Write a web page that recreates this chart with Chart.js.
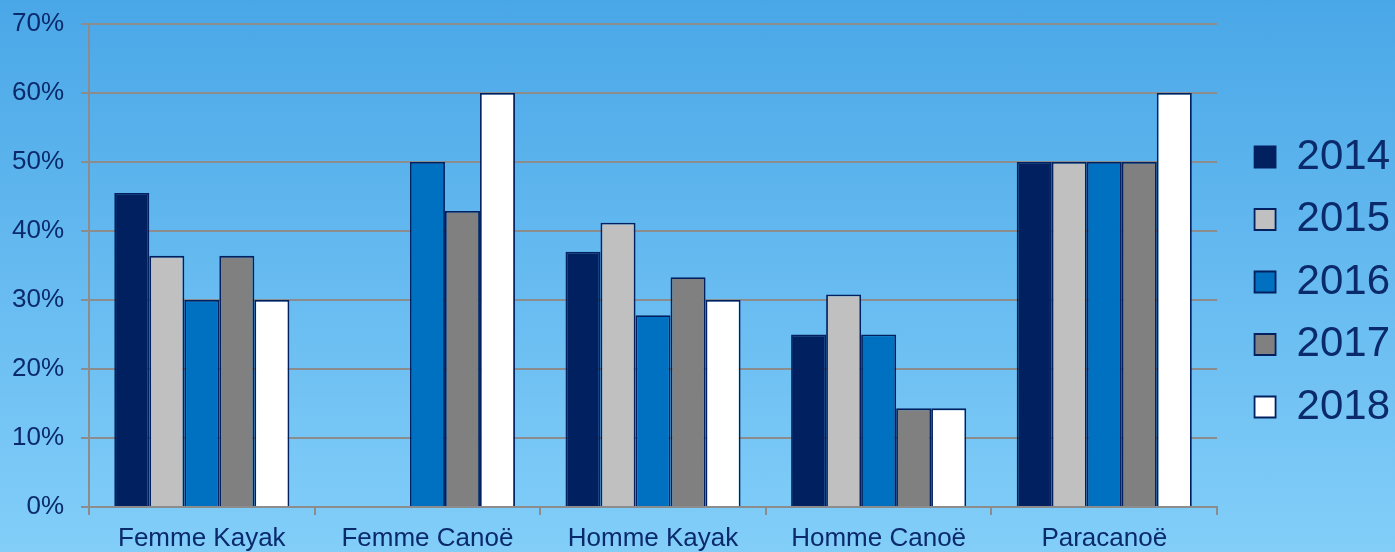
<!DOCTYPE html>
<html>
<head>
<meta charset="utf-8">
<script src="https://cdn.jsdelivr.net/npm/chart.js@4"></script>
<style>
  html, body { margin: 0; padding: 0; }
  body { width: 1395px; height: 552px; background: linear-gradient(#4aa7e7, #82cef9); }
  #wrap { width: 1395px; height: 552px; position: relative; }
</style>
</head>
<body>
<div id="wrap"><canvas id="chart"></canvas></div>
<script>
// values, in percent
const categories = ['Femme Kayak', 'Femme Canoë', 'Homme Kayak', 'Homme Canoë', 'Paracanoë'];
const years = ['2014', '2015', '2016', '2017', '2018'];
const values2014 = [45.5, 0, 37.0, 25.0, 50];
const values2015 = [36.4, 0, 41.2, 30.8, 50];
const values2016 = [30.0, 50, 27.8, 25.0, 50];
const values2017 = [36.4, 42.9, 33.3, 14.3, 50];
const values2018 = [30.0, 60, 30.0, 14.3, 60];
const yTicks = [0, 10, 20, 30, 40, 50, 60, 70];

const colors = ['#002060', '#c0c0c0', '#0070c0', '#808080', '#ffffff'];
const seriesValues = [values2014, values2015, values2016, values2017, values2018];
const textColor = '#0b2a6b';
const gridColor = '#8c8c8c';
const font = 'Liberation Sans, Arial, sans-serif';

const datasets = years.map((y, i) => ({
    label: y,
    data: seriesValues[i],
    backgroundColor: colors[i],
    borderColor: '#002060',
    borderWidth: ctx => (ctx.raw === 0 ? 0 : 1.8),
    borderSkipped: 'start'
}));

new Chart(document.getElementById('chart'), {
    type: 'bar',
    data: { labels: categories, datasets: datasets },
    options: {
        responsive: true,
        maintainAspectRatio: false,
        animation: false,
        layout: { padding: { left: 12, right: -5, top: 12, bottom: 0 } },
        datasets: { bar: { barPercentage: 1, categoryPercentage: 0.776 } },
        plugins: {
            tooltip: { enabled: false },
            legend: {
                position: 'right',
                align: 'center',
                labels: {
                    boxWidth: 21,
                    boxHeight: 21,
                    padding: 20.5,
                    color: textColor,
                    font: { family: font, size: 42 }
                }
            }
        },
        scales: {
            x: {
                grid: { display: true, drawOnChartArea: false, drawTicks: true, tickLength: 8, color: gridColor, lineWidth: 2, offset: true },
                border: { display: true, color: gridColor, width: 2 },
                ticks: { color: textColor, padding: 8, font: { family: font, size: 26 } },
                afterFit: s => { s.height = 45; }
            },
            y: {
                min: 0,
                max: 70,
                afterBuildTicks: s => { s.ticks = yTicks.map(v => ({ value: v })); },
                grid: { color: gridColor, lineWidth: 2, tickLength: 8 },
                border: { display: true, color: gridColor, width: 2 },
                ticks: {
                    color: textColor,
                    padding: 17,
                    callback: v => v + '%',
                    font: { family: font, size: 26 }
                },
                afterFit: s => { s.width = 77; s.paddingTop = 0; s.paddingBottom = 0; }
            },
            // spacers so the plot area and legend sit where they do in the picture
            xTop: {
                type: 'category',
                position: 'top',
                grid: { display: false },
                border: { display: false },
                ticks: { display: false },
                afterFit: s => { s.height = 12; }
            },
            yRight: {
                type: 'linear',
                position: 'right',
                grid: { display: false },
                border: { display: false },
                ticks: { display: false },
                afterFit: s => { s.width = 17; }
            }
        }
    }
});
</script>
</body>
</html>
